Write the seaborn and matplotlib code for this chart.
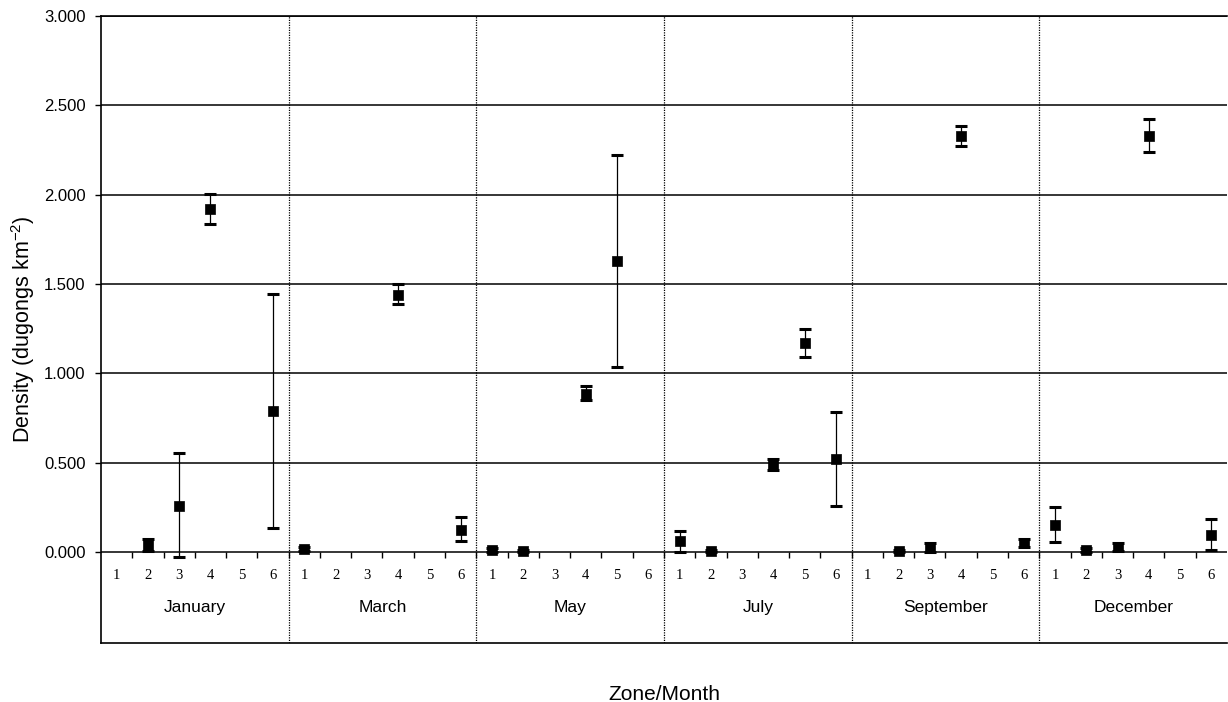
import numpy as np
import pandas as pd
import matplotlib
matplotlib.use("Agg")
import matplotlib.pyplot as plt
import seaborn as sns
from matplotlib.ticker import FormatStrFormatter

# 月份与区域
months = ["January", "March", "May", "July", "September", "December"]
zones = [1, 2, 3, 4, 5, 6]

# 每个点：月份、区域、密度均值、误差下限、误差上限
rec_month = ["January", "January", "January", "January",
             "March", "March", "March",
             "May", "May", "May", "May",
             "July", "July", "July", "July", "July",
             "September", "September", "September", "September",
             "December", "December", "December", "December", "December"]
rec_zone = [2, 3, 4, 6,
            1, 4, 6,
            1, 2, 4, 5,
            1, 2, 4, 5, 6,
            2, 3, 4, 6,
            1, 2, 3, 4, 6]
density = [0.04, 0.26, 1.92, 0.79,
           0.015, 1.44, 0.125,
           0.01, 0.005, 0.885, 1.63,
           0.06, 0.005, 0.49, 1.17, 0.52,
           0.005, 0.025, 2.33, 0.05,
           0.15, 0.01, 0.027, 2.33, 0.095]
lower = [0.005, -0.03, 1.835, 0.135,
         0.005, 1.39, 0.06,
         0.0, 0.0, 0.85, 1.035,
         0.0, 0.0, 0.46, 1.09, 0.26,
         0.0, 0.0, 2.275, 0.025,
         0.055, 0.0, 0.005, 2.24, 0.01]
upper = [0.075, 0.555, 2.005, 1.445,
         0.025, 1.50, 0.195,
         0.02, 0.01, 0.93, 2.225,
         0.115, 0.01, 0.52, 1.25, 0.785,
         0.01, 0.05, 2.385, 0.075,
         0.25, 0.02, 0.05, 2.425, 0.185]

df = pd.DataFrame({"month": rec_month, "zone": rec_zone, "density": density,
                   "lower": lower, "upper": upper})
df["pos"] = df["month"].map({m: i for i, m in enumerate(months)}) * len(zones) + df["zone"] - 1

sns.set_style("ticks")
plt.rcParams["font.family"] = ["Liberation Sans", "DejaVu Sans"]
plt.rcParams["mathtext.fontset"] = "custom"
plt.rcParams["mathtext.rm"] = "Liberation Sans"
plt.rcParams["mathtext.default"] = "regular"
plt.rcParams["text.color"] = "black"
plt.rcParams["axes.labelcolor"] = "black"
plt.rcParams["xtick.color"] = "black"
plt.rcParams["ytick.color"] = "black"

fig = plt.figure(figsize=(12.28, 7.02), dpi=100)
ax = fig.add_axes([0.0822, 0.084, 0.917, 0.893])

# 误差线 + 方形点
ax.errorbar(df["pos"], df["density"],
            yerr=[df["density"] - df["lower"], df["upper"] - df["density"]],
            fmt="none", ecolor="black", elinewidth=0.9, capsize=4, capthick=2.2, zorder=3)
sns.scatterplot(data=df, x="pos", y="density", marker="s", s=55, color="black",
                edgecolor="black", linewidth=0.5, zorder=4, ax=ax, legend=False)

n = len(months) * len(zones)
ax.set_xlim(-0.5, n - 0.5)
ax.set_ylim(-0.51, 3.0)

# 水平网格
ax.set_yticks(np.arange(0, 3.01, 0.5))
ax.yaxis.set_major_formatter(FormatStrFormatter("%.3f"))
ax.grid(axis="y", color="black", linewidth=1.1)
ax.set_axisbelow(True)
ax.tick_params(axis="y", length=4, width=1, labelsize=12, pad=7)

# 月份分隔虚线
for i in range(1, len(months)):
    ax.axvline(i * len(zones) - 0.5, color="black", linewidth=0.9, linestyle=(0, (1, 1)))

for s in ["left", "bottom", "top"]:
    ax.spines[s].set_color("black")
    ax.spines[s].set_linewidth(1.2)
ax.spines["right"].set_visible(False)

# 主x轴不显示刻度
ax.set_xticks([])
ax.set_xlabel("Zone/Month", fontsize=15, labelpad=30)
ax.set_ylabel("Density (dugongs km$^{-2}$)", fontsize=15.5, labelpad=5)

# y=0 处的区域刻度
sec = ax.secondary_xaxis(0, transform=ax.transData)
pos = np.arange(n)
sec.set_xticks(pos, labels=[str(z) for z in zones] * len(months))
sec.set_xticks(np.arange(0.5, n - 1, 1.0), minor=True)
sec.tick_params(which="major", length=0, pad=12, labelsize=10.5)
sec.tick_params(which="minor", length=4, width=1, direction="out")
for lab in sec.get_xticklabels():
    lab.set_family(["Liberation Serif", "DejaVu Serif"])
sec.spines["bottom"].set_visible(False)

# 月份标签
for i, m in enumerate(months):
    ax.text(i * len(zones) + (len(zones) - 1) / 2, -0.31, m, ha="center", va="center", fontsize=12.5)

fig.savefig("out.png", dpi=100)
